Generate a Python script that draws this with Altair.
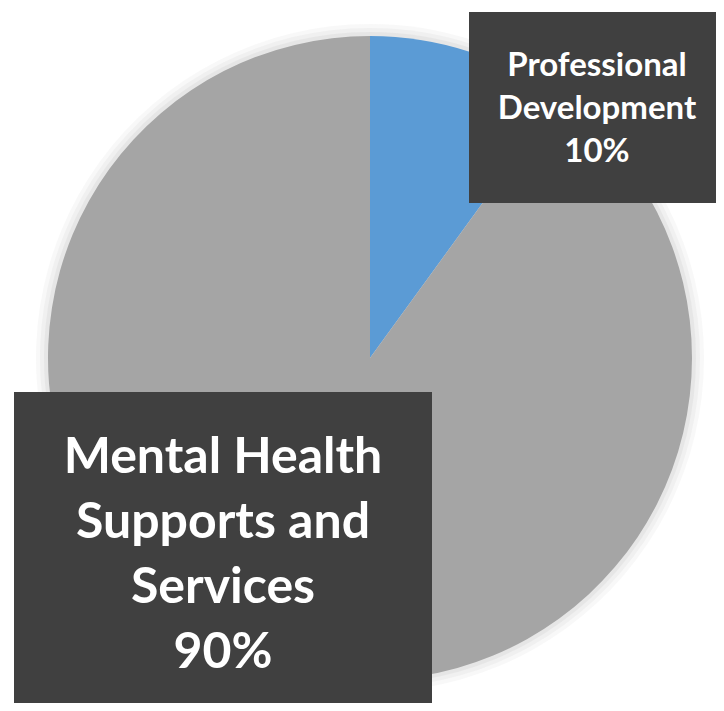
import altair as alt
import pandas as pd

categories = ["Professional Development", "Mental Health Supports and Services"]
shares = [10, 90]
colors = ["#5b9bd5", "#a5a5a5"]
label_lines = [["Professional", "Development"], ["Mental Health", "Supports and", "Services"]]
pct_labels = ["10%", "90%"]

df = pd.DataFrame({"category": categories, "share": shares, "order": [0, 1]})

W, H = 708, 695
CX, CY, R = 362, 350, 322

arc = alt.Chart(df).mark_arc(radius=R, stroke=None).encode(
    theta=alt.Theta("share:Q", stack=True),
    order=alt.Order("order:Q"),
    color=alt.Color("category:N", scale=alt.Scale(domain=categories, range=colors), legend=None),
    x=alt.value(CX),
    y=alt.value(CY),
)

def glow(extra, op):
    return alt.Chart(df).mark_arc(radius=R + extra, fill="#d0d0d0", opacity=op, stroke=None).encode(
        theta=alt.Theta("share:Q", stack=True),
        order=alt.Order("order:Q"),
        x=alt.value(CX),
        y=alt.value(CY),
    )

def box(x1, x2, y1, y2):
    return alt.Chart(df.head(1)).mark_rect(fill="#404040", stroke=None).encode(
        x=alt.value(x1), x2=alt.value(x2), y=alt.value(y1), y2=alt.value(y2)
    )

def label(i, x, y, size, lh):
    d = pd.DataFrame({"t": [label_lines[i] + [pct_labels[i]]]})
    return alt.Chart(d).mark_text(
        font="Lato", fontWeight="bold", fontSize=size, color="white",
        align="center", baseline="middle", lineHeight=lh,
    ).encode(text="t", x=alt.value(x), y=alt.value(y))

chart = alt.layer(
    glow(12, 0.15),
    glow(8, 0.2),
    glow(4, 0.3),
    arc,
    box(461, 716, 4, 195),
    label(0, 589, 58, 33, 43),
    box(6, 424, 384, 703),
    label(1, 215, 450, 50, 65),
).properties(
    width=W, height=H,
    autosize=alt.AutoSizeParams(type="none"),
    padding=0,
).configure_view(stroke=None)

chart.save("out.html", embed_options={"renderer": "svg", "actions": False})
